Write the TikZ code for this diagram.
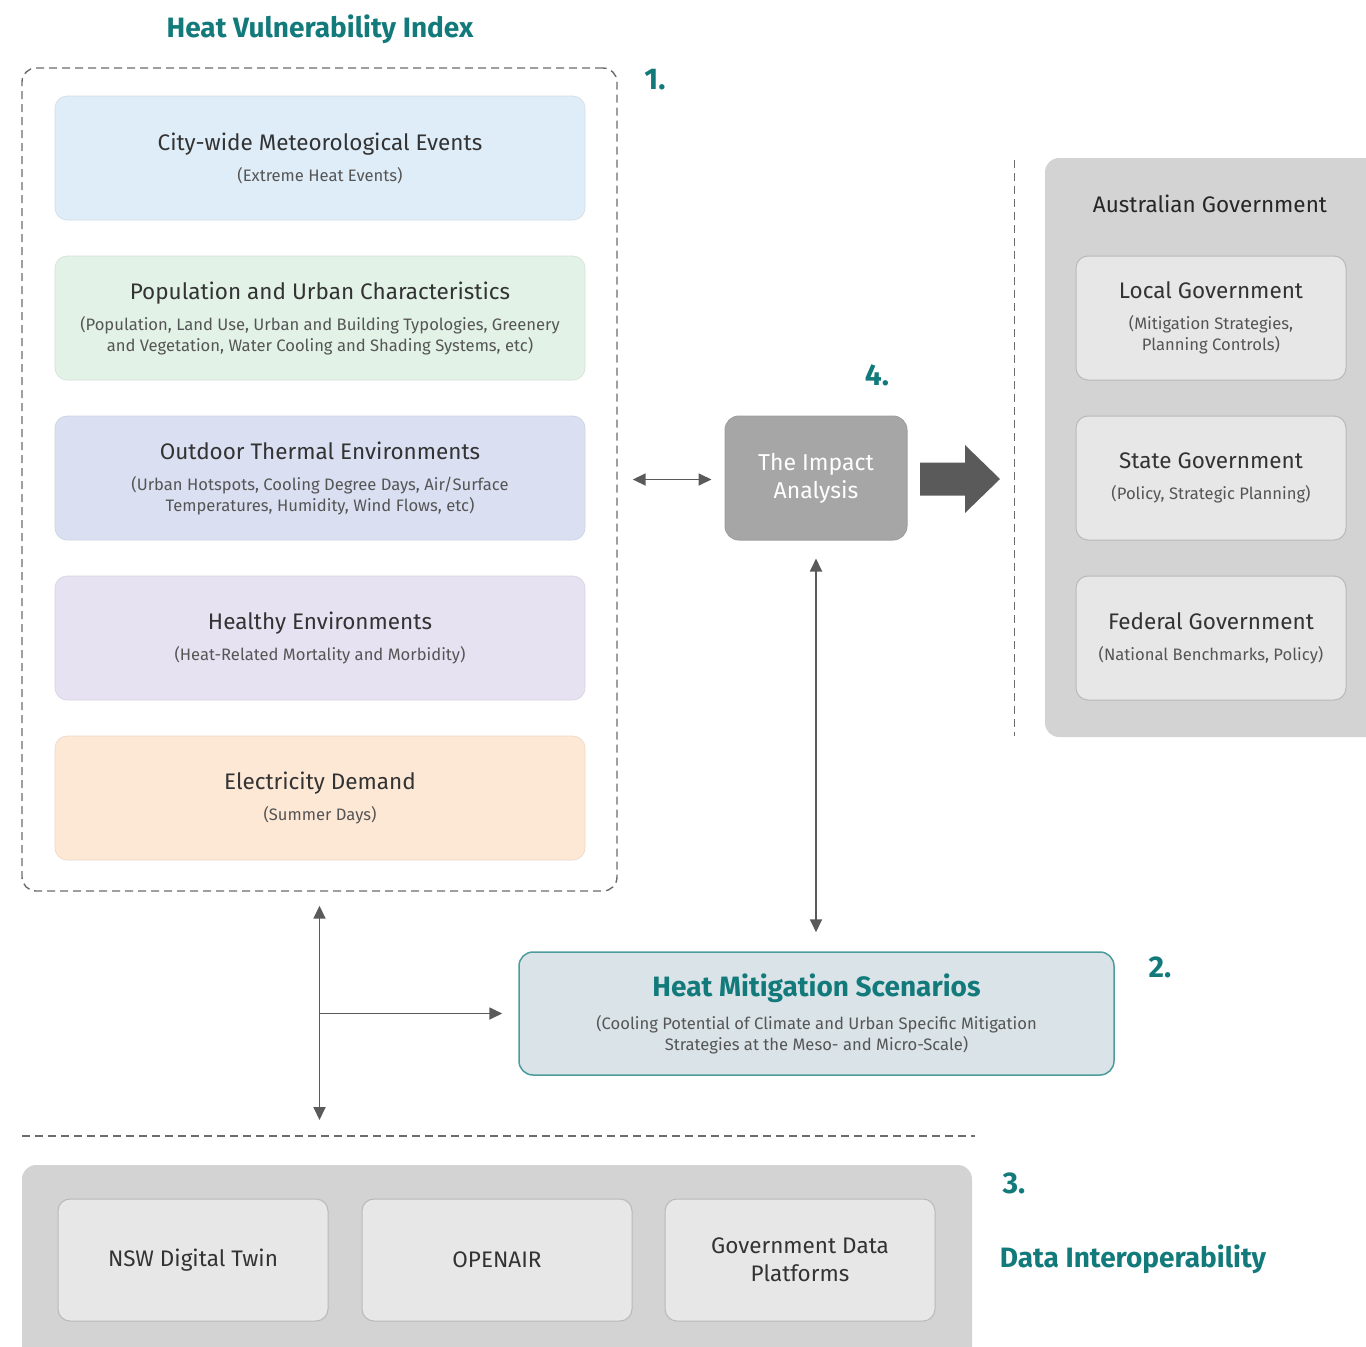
\documentclass[tikz,border=0pt]{standalone}
\usepackage{fontspec}
\setmainfont{Fira Sans}
\usetikzlibrary{arrows.meta}

\definecolor{hvteal}{HTML}{127A7A}
\definecolor{txtdark}{HTML}{333333}
\definecolor{txtsub}{HTML}{555555}
\definecolor{arrowgray}{HTML}{5A5A5A}
\definecolor{panelgray}{HTML}{D3D3D3}
\definecolor{cardgray}{HTML}{E7E7E7}
\definecolor{skyfill}{HTML}{DFEDF8}
\definecolor{mintfill}{HTML}{E2F2E6}
\definecolor{lavfill}{HTML}{DADFF2}
\definecolor{lilacfill}{HTML}{E6E2F1}
\definecolor{peachfill}{HTML}{FDE8D6}
\definecolor{hmsfill}{HTML}{DAE3E8}

\newcommand{\maintxt}[1]{{\fontsize{22.5}{27}\selectfont\color{txtdark}#1}}

\begin{document}
\begin{tikzpicture}[x=1pt,y=-1pt,
    hvibox/.style={rounded corners=12pt, minimum width=530, minimum height=124,
        align=center, inner sep=4pt, draw=#1!85!gray, line width=0.6pt, fill=#1,
        text=txtsub, font=\fontsize{16.6}{21}\selectfont},
    card/.style={rounded corners=12pt, minimum width=270, minimum height=124,
        align=center, fill=cardgray, draw=gray!55, line width=1pt,
        text=txtsub, font=\fontsize{16.6}{21}\selectfont},
    panel/.style={rounded corners=14pt, fill=panelgray, draw=none},
    frame/.style={rounded corners=14pt, draw=gray!85!black, dashed,
        dash pattern=on 8pt off 5pt, line width=1.4pt},
    divider/.style={draw=gray!85!black, dash pattern=on 8pt off 5pt, line width=1.4pt},
    tealhead/.style={text=hvteal, font=\bfseries\fontsize{28}{32}\selectfont},
    stepno/.style={text=hvteal, font=\bfseries\fontsize{30}{34}\selectfont},
    link/.style={draw=arrowgray, line width=1.8pt, -{Triangle[length=13pt,width=12pt]}},
    dbllink/.style={draw=arrowgray, line width=1.8pt,
        {Triangle[length=13pt,width=12pt]}-{Triangle[length=13pt,width=12pt]}}]
    \useasboundingbox (0,0) rectangle (1366,1347);

    % Heat Vulnerability Index
    \node[tealhead] (hvititle) at (320,29) {Heat Vulnerability Index};
    \node[frame, minimum width=595, minimum height=823] (hvi) at (319.5,479.5) {};
    \node[stepno] (one) at (655,80) {1.};

    \node[hvibox=skyfill] (meteo) at (320,158)
        {\maintxt{City-wide Meteorological Events}\\[10pt](Extreme Heat Events)};
    \node[hvibox=mintfill] (popul) at (320,318)
        {\maintxt{Population and Urban Characteristics}\\[10pt](Population, Land Use, Urban and Building Typologies, Greenery\\and Vegetation, Water Cooling and Shading Systems, etc)};
    \node[hvibox=lavfill] (thermal) at (320,478)
        {\maintxt{Outdoor Thermal Environments}\\[10pt](Urban Hotspots, Cooling Degree Days, Air/Surface\\Temperatures, Humidity, Wind Flows, etc)};
    \node[hvibox=lilacfill] (health) at (320,638)
        {\maintxt{Healthy Environments}\\[10pt](Heat-Related Mortality and Morbidity)};
    \node[hvibox=peachfill] (elec) at (320,798)
        {\maintxt{Electricity Demand}\\[10pt](Summer Days)};

    % Impact analysis
    \node[rounded corners=14pt, fill=gray!70, draw=gray!75, line width=1pt,
        minimum width=182, minimum height=124, align=center, text=white,
        font=\fontsize{23}{28}\selectfont] (impact) at (816,478) {The Impact\\Analysis};
    \node[stepno] (four) at (877,375) {4.};
    \coordinate (bigtail) at (920,479);
    \fill[arrowgray] (bigtail) ++(0,-16.5) -- ++(45,0) -- ++(0,-17.5) -- ++(35,34)
        -- ++(-35,34) -- ++(0,-17.5) -- ++(-45,0) -- cycle;

    % Australian Government
    \coordinate (sepT) at (1014,160);
    \coordinate (sepB) at (1014,736);
    \draw[divider, line width=1pt] (sepT) -- (sepB);
    \node[panel, minimum width=340, minimum height=579] (ausgov) at (1215,447.5) {};
    \node[font=\fontsize{22.5}{27}\selectfont, text=black!85] (austitle) at (1210,204) {Australian Government};
    \node[card] (localgov) at (1211,318)
        {\maintxt{Local Government}\\[10pt](Mitigation Strategies,\\Planning Controls)};
    \node[card] (stategov) at (1211,478)
        {\maintxt{State Government}\\[10pt](Policy, Strategic Planning)};
    \node[card] (fedgov) at (1211,638)
        {\maintxt{Federal Government}\\[10pt](National Benchmarks, Policy)};

    % Heat Mitigation Scenarios
    \node[rounded corners=14pt, fill=hmsfill, draw=hvteal!75, line width=1.5pt,
        minimum width=595, minimum height=123, align=center, text=txtsub,
        font=\fontsize{16.6}{21}\selectfont] (hms) at (816.5,1013.5)
        {{\bfseries\fontsize{28}{32}\selectfont\color{hvteal}Heat Mitigation Scenarios}\\[12pt](Cooling Potential of Climate and Urban Specific Mitigation\\Strategies at the Meso- and Micro-Scale)};
    \node[stepno] (two) at (1160,967) {2.};

    % Data Interoperability
    \coordinate (divL) at (22,1136);
    \coordinate (divR) at (975,1136);
    \draw[divider] (divL) -- (divR);
    \node[panel, minimum width=950, minimum height=200] (datapanel) at (497,1265) {};
    \node[card, minimum height=122, font=\fontsize{22.5}{28}\selectfont, text=txtdark] (nsw) at (193,1260) {NSW Digital Twin};
    \node[card, minimum height=122, font=\fontsize{22.5}{28}\selectfont, text=txtdark] (openair) at (497,1260) {OPENAIR};
    \node[card, minimum height=122, font=\fontsize{22.5}{28}\selectfont, text=txtdark] (govdata) at (800,1260)
        {Government Data\\Platforms};
    \node[stepno] (three) at (1014,1183) {3.};
    \node[tealhead] (dititle) at (1133,1259) {Data Interoperability};

    % connectors
    \draw[dbllink, shorten <=15pt, shorten >=13pt] (hvi.east) -- (hvi.east -| impact.west);
    \draw[dbllink, shorten <=18pt, shorten >=19pt] (impact.south) -- (impact.south |- hms.north);
    \draw[dbllink, shorten <=14pt, shorten >=16pt] (hvi.south) -- (hvi.south |- divL);
    \draw[link, shorten >=16pt] (hvi.south |- hms.west) -- (hms.west);
\end{tikzpicture}
\end{document}
